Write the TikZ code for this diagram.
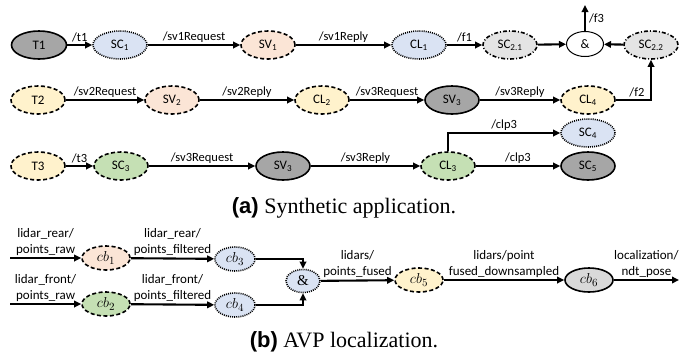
\documentclass[tikz,border=0pt]{standalone}
\usepackage{fontspec}
\setmainfont{Liberation Serif}
\newfontfamily\lab{Carlito}
\newfontfamily\capsans{Liberation Sans}
\usetikzlibrary{shapes.geometric,arrows.meta}
\definecolor{dgray}{HTML}{A6A6A6}
\definecolor{lgray}{HTML}{E4E4E4}
\definecolor{mgray}{HTML}{D9D9D9}
\definecolor{lblue}{HTML}{DAE3F3}
\definecolor{peach}{HTML}{FBE5D6}
\definecolor{lyel}{HTML}{FFF2CC}
\definecolor{lgreen}{HTML}{C5E0B4}
\begin{document}
\begin{tikzpicture}[x=1pt,y=-1pt,
  nd/.style={ellipse,minimum width=54pt,minimum height=28pt,inner sep=0pt,line width=1.6pt,font=\lab\fontsize{13}{14}\selectfont},
  ndb/.style={ellipse,minimum width=48pt,minimum height=24pt,inner sep=0pt,line width=1.6pt,font=\fontsize{15}{16}\selectfont},
  sol/.style={draw},
  dsh/.style={draw,dash pattern=on 4pt off 2.5pt},
  dot/.style={draw,dash pattern=on 1pt off 1.1pt},
  dshdot/.style={draw,dash pattern=on 4pt off 2pt on 1pt off 2pt},
  edge/.style={line width=2.1pt,-{Triangle[length=7pt,width=6.5pt]}},
  lbl/.style={above,inner sep=1.5pt,font=\lab\fontsize{12.5}{14}\selectfont},
  lblb/.style={above,inner sep=1.5pt,align=center,font=\lab\fontsize{13}{16}\selectfont},
  capt/.style={font=\fontsize{22}{24}\selectfont}
]
\useasboundingbox (0,0) rectangle (699,360);
% row 1
\node[nd,sol,fill=dgray,minimum width=55pt] (T1) at (39,45) {T1};
\node[nd,dot,fill=lblue] (SC1) at (120,45) {SC\textsubscript{1}};
\node[nd,dsh,fill=peach] (SV1) at (268,45) {SV\textsubscript{1}};
\node[nd,dot,fill=lblue] (CL1) at (419,45) {CL\textsubscript{1}};
\node[nd,dshdot,fill=lgray] (SC21) at (510,45) {SC\textsubscript{2.1}};
\node[nd,sol,fill=white,line width=1pt,minimum width=37pt,minimum height=25pt] (and1) at (585,44) {\&};
\node[nd,dshdot,fill=lgray] (SC22) at (651,45) {SC\textsubscript{2.2}};
\coordinate (f3) at (585,5);
% row 2
\node[nd,dsh,fill=lyel] (T2) at (38,100) {T2};
\node[nd,dsh,fill=peach] (SV2) at (172,100) {SV\textsubscript{2}};
\node[nd,dsh,fill=lyel] (CL2) at (322,100) {CL\textsubscript{2}};
\node[nd,sol,fill=dgray] (SV3a) at (452,100) {SV\textsubscript{3}};
\node[nd,dsh,fill=lyel] (CL4) at (588,100) {CL\textsubscript{4}};
% row 3
\node[nd,dsh,fill=lyel] (T3) at (38,166) {T3};
\node[nd,dsh,fill=lgreen] (SC3) at (121,166) {SC\textsubscript{3}};
\node[nd,sol,fill=dgray] (SV3b) at (283,166) {SV\textsubscript{3}};
\node[nd,dsh,fill=lgreen] (CL3) at (448,166) {CL\textsubscript{3}};
\node[nd,dot,fill=lblue] (SC4) at (588,133) {SC\textsubscript{4}};
\node[nd,sol,fill=dgray] (SC5) at (588,166) {SC\textsubscript{5}};
% edges a
\draw[edge] (T1) -- node[lbl] {/t1} (SC1);
\draw[edge] (SC1) -- node[lbl] {/sv1Request} (SV1);
\draw[edge] (SV1) -- node[lbl] {/sv1Reply} (CL1);
\draw[edge] (CL1) -- node[lbl] {/f1} (SC21);
\draw[edge] (SC21) -- (and1);
\draw[edge] (SC22) -- (and1);
\draw[edge] (and1) -- node[right,pos=0.5,inner sep=3pt,font=\lab\fontsize{12.5}{14}\selectfont] {/f3} (f3);
\draw[edge] (T2) -- node[lbl] {/sv2Request} (SV2);
\draw[edge] (SV2) -- node[lbl] {/sv2Reply} (CL2);
\draw[edge] (CL2) -- node[lbl] {/sv3Request} (SV3a);
\draw[edge] (SV3a) -- node[lbl] {/sv3Reply} (CL4);
\draw[edge] (CL4) -| node[lbl,pos=0.3] {/f2} (SC22);
\draw[edge] (T3) -- node[lbl] {/t3} (SC3);
\draw[edge] (SC3) -- node[lbl] {/sv3Request} (SV3b);
\draw[edge] (SV3b) -- node[lbl] {/sv3Reply} (CL3);
\draw[edge] (CL3) -- node[lbl] {/clp3} (SC5);
\draw[edge] (CL3) |- node[lbl,pos=0.75] {/clp3} (SC4);
\node[capt] (capa) at (344,208) {{\capsans\bfseries (a)} Synthetic application.};
% part b
\coordinate (in1) at (10,258);
\coordinate (in2) at (10,304);
\node[ndb,dsh,fill=peach] (cb1) at (106,258) {$cb_1$};
\node[ndb,dsh,fill=lgreen] (cb2) at (106,304) {$cb_2$};
\node[ndb,dot,fill=lblue,minimum width=40pt] (cb3) at (235,259) {$cb_3$};
\node[ndb,dot,fill=lblue,minimum width=40pt] (cb4) at (235,305) {$cb_4$};
\node[ndb,dot,fill=lblue,minimum width=34pt,minimum height=23pt] (and2) at (303,281) {$\&$};
\node[ndb,dsh,fill=lyel] (cb5) at (419,280) {$cb_5$};
\node[ndb,sol,fill=mgray] (cb6) at (589,280) {$cb_6$};
\coordinate (out) at (679,280);
\draw[edge] (in1) -- node[lblb] {lidar\_rear/\\points\_raw} (cb1);
\draw[edge] (in2) -- node[lblb] {lidar\_front/\\points\_raw} (cb2);
\draw[edge] (cb1) -- node[lblb] {lidar\_rear/\\points\_filtered} (cb3);
\draw[edge] (cb2) -- node[lblb] {lidar\_front/\\points\_filtered} (cb4);
\draw[edge] (cb3) -| (and2);
\draw[edge] (cb4) -| (and2);
\draw[edge] (and2) -- node[lblb] {lidars/\\points\_fused} (cb5);
\draw[edge] (cb5) -- node[lblb] {lidars/point\\fused\_downsampled} (cb6);
\draw[edge] (cb6) -- node[lblb] {localization/\\ndt\_pose} (out);
\node[capt] (capb) at (344,342) {{\capsans\bfseries (b)} AVP localization.};
\end{tikzpicture}
\end{document}
